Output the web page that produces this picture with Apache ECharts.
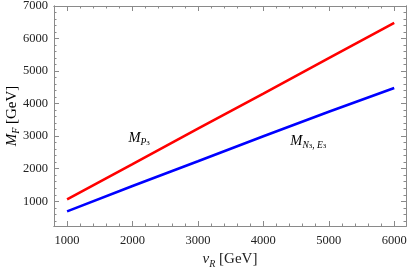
<!DOCTYPE html>
<html><head><meta charset="utf-8">
<script src="https://cdn.jsdelivr.net/npm/echarts@6/dist/echarts.min.js"></script>
<style>html,body{margin:0;padding:0;background:#fff}#c{width:409px;height:269px}</style>
</head><body><div id="c"></div>
<script>
const vR = [1000, 2000, 3000, 4000, 5000, 6000];
const mP3 = [1060, 2140, 3230, 4310, 5400, 6480];
const mN3E3 = [690, 1470, 2230, 3000, 3750, 4480];
const xMajor = [1000, 2000, 3000, 4000, 5000, 6000];
const yMajor = [1000, 2000, 3000, 4000, 5000, 6000, 7000];
const xRange = [800, 6180];
const yRange = [240, 7000];
const xMinor = [], yMinor = [];
for (let v = 800; v <= 6180; v += 200) if (v % 1000) xMinor.push(v);
for (let v = 400; v <= 7000; v += 200) if (v % 1000) yMinor.push(v);

const serif = 'Liberation Serif';
const frame = '#8a8a8a';
const labelColor = '#222';
const titleRich = {
  i: {fontFamily: serif, fontStyle: 'italic', fontSize: 15, color: '#222', verticalAlign: 'top', lineHeight: 17},
  s: {fontFamily: serif, fontStyle: 'italic', fontSize: 10, color: '#222', verticalAlign: 'bottom', lineHeight: 12},
  n: {fontFamily: serif, fontSize: 15, color: '#222', verticalAlign: 'top', lineHeight: 17}
};

function xAx(pos, major, showLabel, withName) {
  const a = {
    type: 'value', position: pos, min: xRange[0], max: xRange[1],
    splitLine: {show: false},
    axisLine: {show: true, onZero: false, lineStyle: {color: frame, width: 1}},
    axisTick: {show: true, inside: true, length: major ? 5 : 2.5, lineStyle: {color: frame},
      customValues: major ? xMajor : xMinor},
    axisLabel: {show: showLabel, customValues: xMajor, margin: 8, color: labelColor,
      fontFamily: serif, fontSize: 12.5, formatter: v => String(v)}
  };
  if (withName) {
    a.name = '{i|v}{s|R}{n| [GeV]}';
    a.nameLocation = 'middle';
    a.nameGap = 26;
    a.nameTextStyle = {rich: titleRich};
  }
  return a;
}
function yAx(pos, major, showLabel) {
  return {
    type: 'value', position: pos, min: yRange[0], max: yRange[1],
    splitLine: {show: false},
    axisLine: {show: true, onZero: false, lineStyle: {color: frame, width: 1}},
    axisTick: {show: true, inside: true, length: major ? 5 : 2.5, lineStyle: {color: frame},
      customValues: major ? yMajor : yMinor},
    axisLabel: {show: showLabel, customValues: yMajor, margin: 6, color: labelColor,
      fontFamily: serif, fontSize: 12.5, formatter: v => String(v)}
  };
}

const chart = echarts.init(document.getElementById('c'), null, {renderer: 'canvas'});
chart.setOption({
  animation: false,
  backgroundColor: '#fff',
  grid: {left: 54, right: 3, top: 6, bottom: 43, outerBoundsMode: 'none', containLabel: false},
  xAxis: [xAx('bottom', true, true, true), xAx('bottom', false, false, false),
          xAx('top', true, false, false), xAx('top', false, false, false)],
  yAxis: [yAx('left', true, true), yAx('left', false, false),
          yAx('right', true, false), yAx('right', false, false)],
  series: [
    {type: 'line', data: vR.map((x, i) => [x, mP3[i]]), showSymbol: false,
     lineStyle: {color: '#ff0000', width: 2.6}, xAxisIndex: 0, yAxisIndex: 0},
    {type: 'line', data: vR.map((x, i) => [x, mN3E3[i]]), showSymbol: false,
     lineStyle: {color: '#0000ff', width: 2.6}, xAxisIndex: 0, yAxisIndex: 0}
  ]
});

const labelP = [1937, 2913];
const labelN = [4412, 2820];
const pP = chart.convertToPixel({xAxisIndex: 0, yAxisIndex: 0}, labelP);
const pN = chart.convertToPixel({xAxisIndex: 0, yAxisIndex: 0}, labelN);
const yMid = (chart.convertToPixel({yAxisIndex: 0}, yRange[0]) + chart.convertToPixel({yAxisIndex: 0}, yRange[1])) / 2;
const richSub = {
  m: {fontFamily: serif, fontStyle: 'italic', fontSize: 14.5, color: '#222', verticalAlign: 'top', lineHeight: 16},
  s: {fontFamily: serif, fontStyle: 'italic', fontSize: 9.5, color: '#222', verticalAlign: 'bottom', lineHeight: 11},
  t: {fontFamily: serif, fontSize: 7, color: '#222', verticalAlign: 'bottom', lineHeight: 6}
};
chart.setOption({
  graphic: [
    {type: 'text', x: 13, y: yMid, rotation: Math.PI / 2,
     style: {text: '{i|M}{s|F}{n| [GeV]}', rich: titleRich, align: 'center', verticalAlign: 'middle'}},
    {type: 'text', x: pP[0], y: pP[1], style: {text: '{m|M}{s|P}{t|3}', rich: richSub, align: 'left', verticalAlign: 'middle'}},
    {type: 'text', x: pN[0], y: pN[1], style: {text: '{m|M}{s|N}{t|3}{s|, E}{t|3}', rich: richSub, align: 'left', verticalAlign: 'middle'}}
  ]
});
</script></body></html>
